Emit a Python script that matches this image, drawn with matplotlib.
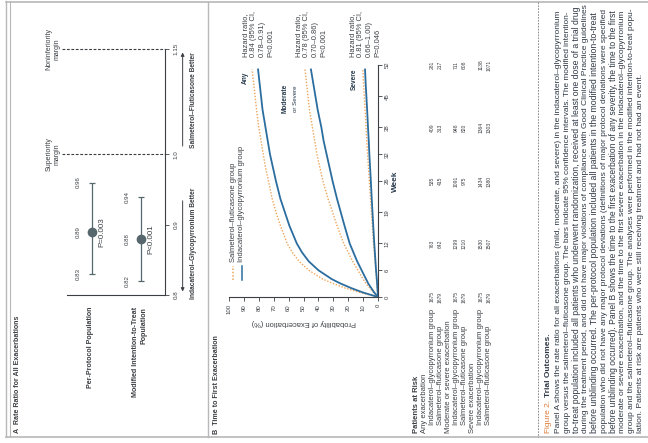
import numpy as np
import matplotlib
matplotlib.use('Agg')
import matplotlib.pyplot as plt
from matplotlib.lines import Line2D
from matplotlib.transforms import blended_transform_factory as blend

# ---------------- Panel A data ----------------
forest_rows = ['Per-Protocol Population', 'Modified Intention-to-Treat\nPopulation']
rate_ratio = [0.89, 0.88]
ci_low = [0.83, 0.82]
ci_high = [0.96, 0.94]
p_values = ['P=0.003', 'P<0.001']
margins = [1.0, 1.15]
margin_labels = ['Superiority\nmargin', 'Noninferiority\nmargin']
rr_ticks = [0.8, 0.9, 1.0, 1.15]
rr_ticklabels = ['0.8', '0.9', '1.0', '1.15']
favour_labels = ['Indacaterol–Glycopyrronium Better', 'Salmeterol–Fluticasone Better']

# ---------------- Panel B data ----------------
weeks = [0, 1, 2, 3, 4, 6, 8, 10, 12, 16, 19, 22, 26, 29, 32, 35, 38, 42, 45, 48, 51]
any_ind = [0, 10, 18, 25, 31, 40, 46.5, 51, 54.5, 59.5, 62.5, 65.5, 68.5, 70.5, 72.5, 74, 75.5, 77.5, 78.5, 79.5, 80.5]
any_sal = [0, 12, 22, 30, 37, 46.5, 53, 57.5, 61, 65.5, 68.5, 71, 73.5, 75.5, 77, 78.5, 80, 81.5, 82.5, 83.5, 84.5]
ms_ind = [0, 2.5, 4.5, 6.5, 8, 11, 14, 16.5, 19, 22.5, 25, 27.5, 30.5, 32.5, 34.5, 36.5, 38, 40.5, 42, 43.5, 45]
ms_sal = [0, 3, 5.5, 8, 10, 13.5, 17, 20, 23, 27.5, 30.5, 33.5, 37, 39, 41, 42.5, 44, 46, 47, 48, 49]
sev_ind = [0, 0.2, 0.4, 0.6, 0.8, 1.3, 1.7, 2.1, 2.5, 3.2, 3.7, 4.2, 4.8, 5.3, 5.8, 6.2, 6.7, 7.3, 7.8, 8.3, 8.7]
sev_sal = [0, 0.25, 0.5, 0.75, 1.0, 1.5, 2.0, 2.5, 3.0, 3.8, 4.4, 5.0, 5.8, 6.4, 7.0, 7.5, 8.0, 8.7, 9.2, 9.7, 10.2]
week_ticks = [0, 6, 12, 19, 26, 32, 38, 45, 52]
prob_ticks = list(range(0, 101, 10))
series_names = ['Salmeterol–fluticasone group', 'Indacaterol–glycopyrronium group']
hr = [0.84, 0.78, 0.81]
hr_low = [0.78, 0.70, 0.66]
hr_high = [0.91, 0.86, 1.00]
hr_p = ['P<0.001', 'P<0.001', 'P=0.046']

# ---------------- Patients at risk ----------------
risk_weeks = [0, 12, 26, 38, 52]
risk_sections = ['Any exacerbation', 'Moderate or severe exacerbation', 'Severe exacerbation']
risk_groups = ['Indacaterol–glycopyrronium group', 'Salmeterol–fluticasone group']
risk_ind_any = [1675, 763, 535, 409, 281]
risk_sal_any = [1679, 642, 415, 313, 217]
risk_ind_ms = [1675, 1299, 1091, 948, 711]
risk_sal_ms = [1679, 1210, 975, 820, 608]
risk_ind_sev = [1675, 1530, 1434, 1364, 1138]
risk_sal_sev = [1679, 1507, 1380, 1303, 1071]

caption_title = ['Figure 2.', 'Trial Outcomes.']
caption_lines = [
    'Panel A shows the rate ratio for all exacerbations (mild, moderate, and severe) in the indacaterol–glycopyrronium',
    'group versus the salmeterol–fluticasone group. The bars indicate 95% confidence intervals. The modified intention-',
    'to-treat population included all patients who underwent randomization, received at least one dose of a trial drug',
    'during the treatment period, and did not have major violations of compliance with Good Clinical Practice guidelines',
    'before unblinding occurred. The per-protocol population included all patients in the modified intention-to-treat',
    'population who did not have any major protocol deviations (definitions of major protocol deviations were specified',
    'before unblinding occurred). Panel B shows the time to the first exacerbation of any severity, the time to the first',
    'moderate or severe exacerbation, and the time to the first severe exacerbation in the indacaterol–glycopyrronium',
    'group and the salmeterol–fluticasone group. The analyses were performed in the modified intention-to-treat popu-',
    'lation. Patients at risk are patients who were still receiving treatment and had not had an event.',
]

# ---------------- style ----------------
plt.rcParams['font.family'] = ['Liberation Sans', 'DejaVu Sans']

BLUE = '#2b6d9e'
ORANGE = '#f0a458'
DARK = '#3b3f44'
NAVY = '#27394b'
GRAY = '#b8b8b8'
CAP = '#2f3845'

W, H = 648, 443
fig = plt.figure(figsize=(W / 100, H / 100), dpi=100)
fig.patch.set_facecolor('white')
renderer = fig.canvas.get_renderer()


def fx(x):
    return x / W


def fy(y):
    return 1 - y / H


def rect(x0, y0, x1, y1):
    return [x0 / W, 1 - y1 / H, (x1 - x0) / W, (y1 - y0) / H]


def size_for(s, length, weight='normal'):
    t = fig.text(0, 0, s, fontsize=10, fontweight=weight)
    w = t.get_window_extent(renderer).width
    t.remove()
    return 10 * length / max(w, 1)


def line(xs, ys, **kw):
    fig.add_artist(Line2D([fx(v) for v in xs], [fy(v) for v in ys],
                          transform=fig.transFigure, **kw))


fs_title = size_for('A  Rate Ratio for All Exacerbations', 118, 'bold')
fs_row = size_for('Per-Protocol Population', 82, 'bold')
fs_val = size_for('0.83', 12)
fs_p = size_for('P=0.003', 30)
fs_rrtick = size_for('1.15', 12)
fs_margin = size_for('Noninferiority', 42)
fs_fav = size_for(favour_labels[0], 112, 'bold')
fs_ktick = size_for('100', 10)
fs_plab = size_for('Probability of Exacerbation (%)', 103)
fs_week = size_for('Week', 21, 'bold')
fs_leg = size_for(series_names[1], 116)
fs_curve = size_for('Moderate', 29, 'bold')
fs_hr = size_for('Hazard ratio,', 43)
fs_tab = size_for(risk_groups[0], 116)
fs_num = size_for('1675', 11)

# frame
line([6, 6], [1, 437], color=GRAY, lw=1.0)
line([10, 10], [1, 437], color=GRAY, lw=0.8)
line([6, 648], [1.5, 1.5], color=GRAY, lw=1.2)
line([6, 648], [437, 437], color=GRAY, lw=1.2)
line([208, 208], [1.5, 437], color=GRAY, lw=1.0)
line([538, 538], [1.5, 437], color='#7a7a7a', lw=0.6, ls=(0, (2, 1.5)))

# ---------------- Panel A ----------------
fig.text(fx(18), fy(433), 'A  Rate Ratio for All Exacerbations', rotation=90,
         ha='center', va='bottom', fontweight='bold', color=DARK, fontsize=fs_title)

axA = fig.add_axes(rect(67, 49, 165, 295))
axA.patch.set_alpha(0)
axA.set_xlim(0, len(forest_rows))
axA.set_ylim(0.8, 1.15)
for s in ['top', 'left']:
    axA.spines[s].set_visible(False)
for s in ['bottom', 'right']:
    axA.spines[s].set_color(DARK)
    axA.spines[s].set_linewidth(0.8)
axA.yaxis.tick_right()
axA.set_xticks([])
axA.set_yticks(rr_ticks)
axA.set_yticklabels(rr_ticklabels, rotation=90, va='center', ha='left', fontsize=fs_rrtick, color=DARK)
axA.tick_params(axis='y', length=3, width=0.6, pad=3, colors=DARK)

xs = np.arange(len(forest_rows)) + 0.5
axA.errorbar(xs, rate_ratio,
             yerr=[np.subtract(rate_ratio, ci_low), np.subtract(ci_high, rate_ratio)],
             fmt='o', ms=6, mfc='#56686e', mec='#56686e', ecolor='#56686e',
             elinewidth=0.9, capsize=2.5, capthick=0.9, zorder=3)
for i in range(len(forest_rows)):
    for v in (ci_low[i], rate_ratio[i], ci_high[i]):
        axA.annotate(f'{v:.2f}', (xs[i], v), xytext=(-13, 0), textcoords='offset pixels',
                     rotation=90, ha='center', va='center', fontsize=fs_val, color=DARK)
    axA.annotate(p_values[i], (xs[i], rate_ratio[i]), xytext=(10, 0), textcoords='offset pixels',
                 rotation=90, ha='center', va='center', fontsize=fs_p, color=DARK)
    axA.annotate(forest_rows[i], (xs[i], 0.8), xytext=(-1, -12), textcoords='offset pixels',
                 rotation=90, ha='center', va='top', multialignment='right',
                 fontweight='bold', fontsize=fs_row, color=DARK)

ytr = axA.get_yaxis_transform()
for m, lab in zip(margins, margin_labels):
    axA.plot([-0.05, 1], [m, m], transform=ytr, ls=(0, (2.5, 1.5)), color=DARK, lw=0.8, clip_on=False)
    axA.annotate(lab, (-0.05, m), xycoords=ytr, xytext=(-2, 0), textcoords='offset pixels',
                 rotation=90, ha='right', va='center', multialignment='center',
                 fontsize=fs_margin, color=DARK, linespacing=1.1)

btr = blend(axA.transAxes, axA.transData)
axA.annotate('', xy=(1.18, 0.801), xytext=(1.18, 0.938), xycoords=btr,
             arrowprops=dict(arrowstyle='-|>', lw=0.7, color=DARK, mutation_scale=5))
axA.annotate('', xy=(1.18, 1.149), xytext=(1.18, 1.008), xycoords=btr,
             arrowprops=dict(arrowstyle='-|>', lw=0.7, color=DARK, mutation_scale=5))
axA.text(1.29, 0.874, favour_labels[0], transform=btr, rotation=90, ha='center', va='center',
         fontweight='bold', fontsize=fs_fav, color=DARK)
axA.text(1.29, 1.077, favour_labels[1], transform=btr, rotation=90, ha='center', va='center',
         fontweight='bold', fontsize=fs_fav, color=DARK)

# ---------------- Panel B ----------------
fig.text(fx(217), fy(434), 'B  Time to First Exacerbation', rotation=90,
         ha='center', va='bottom', fontweight='bold', color=DARK, fontsize=fs_title)

axB = fig.add_axes(rect(229, 65, 378, 297))
axB.patch.set_alpha(0)
axB.set_xlim(100, 0)
axB.set_ylim(0, 52)
for s in ['top', 'left']:
    axB.spines[s].set_visible(False)
for s in ['bottom', 'right']:
    axB.spines[s].set_color(DARK)
    axB.spines[s].set_linewidth(0.8)
axB.yaxis.tick_right()
axB.set_xticks(prob_ticks)
axB.set_xticklabels([str(v) for v in prob_ticks], rotation=90, ha='center', va='top',
                    fontsize=fs_ktick, color=DARK)
axB.set_yticks(week_ticks)
axB.set_yticklabels([str(v) for v in week_ticks], rotation=90, ha='left', va='center',
                    fontsize=fs_ktick, color=DARK)
axB.tick_params(length=3, width=0.6, pad=2, colors=DARK)

dot = (0, (1, 1.2))
for sal, ind in [(any_sal, any_ind), (ms_sal, ms_ind), (sev_sal, sev_ind)]:
    axB.plot(sal, weeks, color=ORANGE, lw=1.0, ls=dot)
    axB.plot(ind, weeks, color=BLUE, lw=1.3)

axB.text(0.5, -0.112, 'Probability of Exacerbation (%)', transform=axB.transAxes, rotation=180,
         ha='center', va='center', fontsize=fs_plab, color=DARK)
axB.text(1.115, 0.5, 'Week', transform=axB.transAxes, rotation=90, ha='center', va='center',
         fontweight='bold', fontsize=fs_week, color=NAVY)

# legend
for fxp, col, ls, lab in [(0.027, ORANGE, dot, series_names[0]),
                          (0.087, BLUE, '-', series_names[1])]:
    axB.plot([fxp, fxp], [0.073, 0.134], transform=axB.transAxes, color=col, ls=ls, lw=1.1, clip_on=False)
    axB.text(fxp, 0.151, lab, transform=axB.transAxes, rotation=90, ha='center', va='bottom',
             fontsize=fs_leg, color=DARK)

# curve labels
axB.text(89, 50.5, 'Any', rotation=90, ha='center', va='top', fontweight='bold',
         fontsize=fs_curve, color=NAVY)
axB.text(62, 44.5, 'Moderate', rotation=90, ha='center', va='center', fontweight='bold',
         fontsize=fs_curve, color=NAVY)
axB.text(55.5, 44.5, 'or Severe', rotation=90, ha='center', va='center',
         fontsize=fs_curve * 0.95, color=NAVY)
axB.text(16, 48.8, 'Severe', rotation=90, ha='center', va='center', fontweight='bold',
         fontsize=fs_curve, color=NAVY)

# hazard ratios at end of indacaterol curves
for ind, h, lo, hi, p in zip([any_ind, ms_ind, sev_ind], hr, hr_low, hr_high, hr_p):
    lines = ['Hazard ratio,', f'{h:.2f} (95% CI,', f'{lo:.2f}–{hi:.2f})', p]
    for dx, s in zip([-12.5, -4.2, 4.2, 12.5], lines):
        axB.annotate(s, (ind[-1], 53.8), xytext=(dx, 0), textcoords='offset pixels',
                     rotation=90, ha='center', va='bottom', fontsize=fs_hr, color=DARK,
                     annotation_clip=False)

# patients at risk
rtr = blend(fig.transFigure, axB.transData)
row_x = 416
step = 8.1
fig.text(fx(row_x), fy(433), 'Patients at Risk', rotation=90, ha='center', va='bottom',
         fontweight='bold', fontsize=fs_tab, color=DARK)
k = 1
for sec, (ind_vals, sal_vals) in zip(risk_sections, [(risk_ind_any, risk_sal_any),
                                                     (risk_ind_ms, risk_sal_ms),
                                                     (risk_ind_sev, risk_sal_sev)]):
    x = row_x + step * k
    fig.text(fx(x), fy(433), sec, rotation=90, ha='center', va='bottom', fontsize=fs_tab, color=DARK)
    k += 1
    for gname, vals in zip(risk_groups, [ind_vals, sal_vals]):
        x = row_x + step * k
        fig.text(fx(x), fy(425), gname, rotation=90, ha='center', va='bottom', fontsize=fs_tab, color=DARK)
        for wk, v in zip(risk_weeks, vals):
            fig.text(fx(x), wk, str(v), transform=rtr, rotation=90, ha='center', va='center',
                     fontsize=fs_num, color=DARK)
        k += 1

# caption
fs_cap = size_for(caption_lines[0], 423)
c1 = fig.text(fx(548), fy(433), caption_title[0], rotation=90, ha='center', va='bottom',
              fontsize=fs_cap, color='#e07b39')
bb = c1.get_window_extent(renderer)
fig.text(fx(548), (bb.y1 + 3) / H, caption_title[1], rotation=90, ha='center', va='bottom',
         fontsize=fs_cap, fontweight='bold', color=CAP)
sizes = []
for i, ln in enumerate(caption_lines):
    if i < len(caption_lines) - 1:
        s = size_for(ln, 423)
        sizes.append(s)
    else:
        s = float(np.mean(sizes))
    fig.text(fx(558 + 9.2 * i), fy(433), ln, rotation=90, ha='center', va='bottom',
             fontsize=s, color=CAP)

fig.savefig('out.png', dpi=100, facecolor='white')
